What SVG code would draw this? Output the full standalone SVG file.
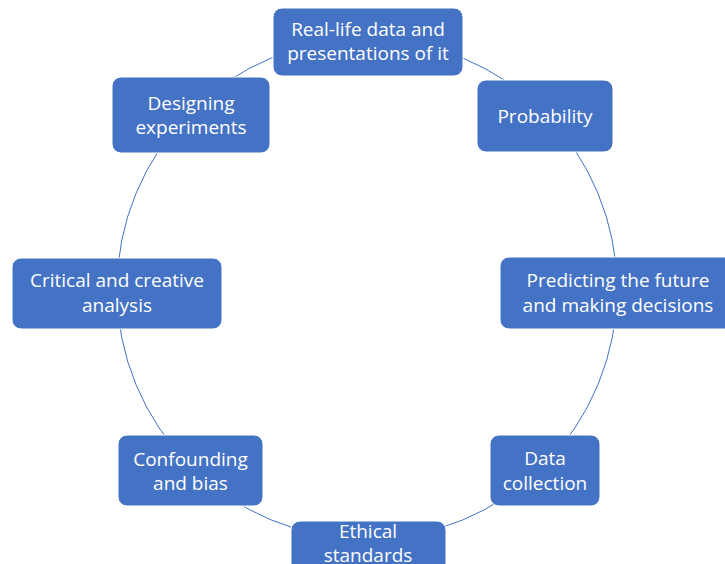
<svg xmlns="http://www.w3.org/2000/svg" width="725" height="564" viewBox="0 0 725 564">
<style>
.box{fill:#4472C4;stroke:#FFFFFF;stroke-width:1}
.lbl{fill:#FFFFFF;font-family:"Open Sans","Liberation Sans",sans-serif;font-size:19px;text-anchor:middle}
.arc{fill:none;stroke:#4472C4;stroke-width:1}
</style>
<rect width="725" height="564" fill="#FFFFFF"/>
<g id="connectors">
<path class="arc" d="M367,39 A250,250 0 0 1 543.78,112.22"/>
<path class="arc" d="M543.78,112.22 A250,250 0 0 1 617,289"/>
<path class="arc" d="M617,289 A250,250 0 0 1 543.78,465.78"/>
<path class="arc" d="M543.78,465.78 A250,250 0 0 1 367,539"/>
<path class="arc" d="M367,539 A250,250 0 0 1 190.22,465.78"/>
<path class="arc" d="M190.22,465.78 A250,250 0 0 1 117,289"/>
<path class="arc" d="M117,289 A250,250 0 0 1 190.22,112.22"/>
<path class="arc" d="M190.22,112.22 A250,250 0 0 1 367,39"/>
</g>
<g id="node-reallife">
<rect class="box" x="273" y="8" width="190" height="68" rx="9"/>
<text class="lbl" x="368" y="36">Real-life data and</text>
<text class="lbl" x="368" y="60">presentations of it</text>
</g>
<g id="node-probability">
<rect class="box" x="477" y="80" width="136" height="72" rx="9"/>
<text class="lbl" x="545" y="123">Probability</text>
</g>
<g id="node-predicting">
<rect class="box" x="500" y="257" width="236" height="72" rx="9"/>
<text class="lbl" x="618" y="287">Predicting the future</text>
<text class="lbl" x="618" y="312">and making decisions</text>
</g>
<g id="node-datacollection">
<rect class="box" x="490" y="435" width="110" height="71" rx="9"/>
<text class="lbl" x="545" y="465">Data</text>
<text class="lbl" x="545" y="490">collection</text>
</g>
<g id="node-ethical">
<rect class="box" x="291" y="521" width="155" height="72" rx="9"/>
<text class="lbl" x="368" y="538">Ethical</text>
<text class="lbl" x="368" y="562">standards</text>
</g>
<g id="node-confounding">
<rect class="box" x="118" y="435" width="145" height="71" rx="9"/>
<text class="lbl" x="190.5" y="466">Confounding</text>
<text class="lbl" x="190.5" y="490">and bias</text>
</g>
<g id="node-critical">
<rect class="box" x="12" y="258" width="210" height="71" rx="9"/>
<text class="lbl" x="117" y="287">Critical and creative</text>
<text class="lbl" x="117" y="312">analysis</text>
</g>
<g id="node-designing">
<rect class="box" x="112" y="77" width="158" height="76" rx="9"/>
<text class="lbl" x="191" y="110">Designing</text>
<text class="lbl" x="191" y="134">experiments</text>
</g>
</svg>
